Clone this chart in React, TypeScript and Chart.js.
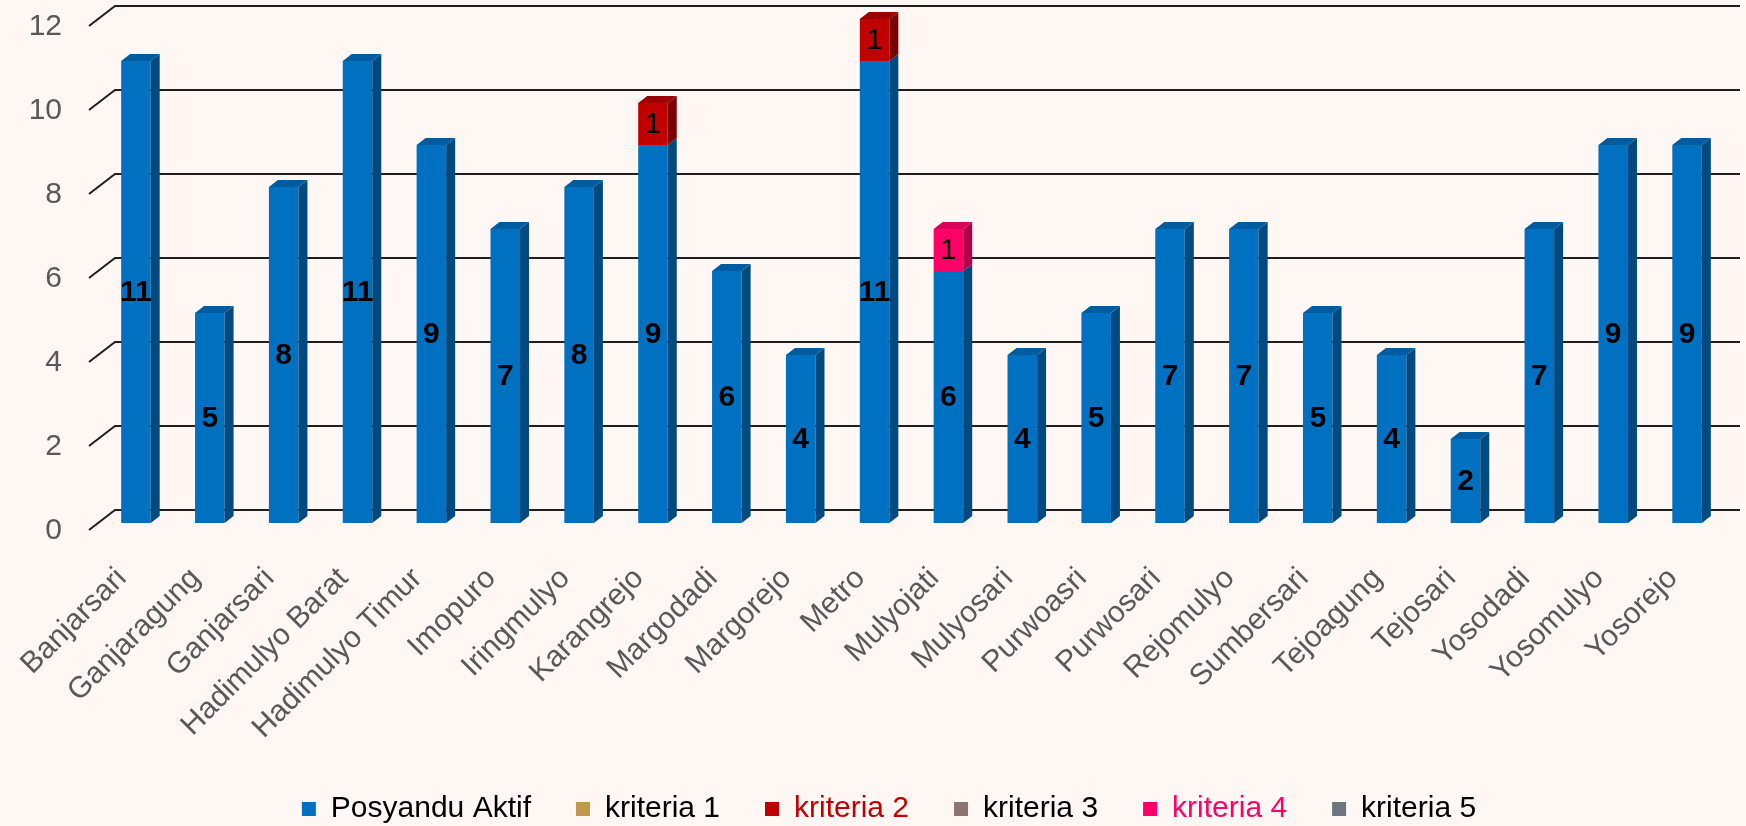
import React, { useEffect, useRef } from "react";
import { Chart, registerables } from "chart.js";

Chart.register(...registerables);

const categories = [
  "Banjarsari", "Ganjaragung", "Ganjarsari", "Hadimulyo Barat", "Hadimulyo Timur",
  "Imopuro", "Iringmulyo", "Karangrejo", "Margodadi", "Margorejo", "Metro",
  "Mulyojati", "Mulyosari", "Purwoasri", "Purwosari", "Rejomulyo", "Sumbersari",
  "Tejoagung", "Tejosari", "Yosodadi", "Yosomulyo", "Yosorejo",
];
const posyanduAktif = [11, 5, 8, 11, 9, 7, 8, 9, 6, 4, 11, 6, 4, 5, 7, 7, 5, 4, 2, 7, 9, 9];
const kriteria1 = [0, 0, 0, 0, 0, 0, 0, 0, 0, 0, 0, 0, 0, 0, 0, 0, 0, 0, 0, 0, 0, 0];
const kriteria2 = [0, 0, 0, 0, 0, 0, 0, 1, 0, 0, 1, 0, 0, 0, 0, 0, 0, 0, 0, 0, 0, 0];
const kriteria3 = [0, 0, 0, 0, 0, 0, 0, 0, 0, 0, 0, 0, 0, 0, 0, 0, 0, 0, 0, 0, 0, 0];
const kriteria4 = [0, 0, 0, 0, 0, 0, 0, 0, 0, 0, 0, 1, 0, 0, 0, 0, 0, 0, 0, 0, 0, 0];
const kriteria5 = [0, 0, 0, 0, 0, 0, 0, 0, 0, 0, 0, 0, 0, 0, 0, 0, 0, 0, 0, 0, 0, 0];
const yTicks = [0, 2, 4, 6, 8, 10, 12];

const seriesNames = ["Posyandu Aktif", "kriteria 1", "kriteria 2", "kriteria 3", "kriteria 4", "kriteria 5"];
const seriesData = [posyanduAktif, kriteria1, kriteria2, kriteria3, kriteria4, kriteria5];
const frontColors = ["#0070C0", "#C0984F", "#C00000", "#8C7470", "#FF0066", "#6E767E"];
const sideColors = ["#004A80", "#806533", "#7A0000", "#5E4D4A", "#B0004A", "#4A4F55"];
const topColors = ["#005C9E", "#A07E40", "#9A0000", "#756260", "#D80058", "#5C6369"];
const legendTextColors = ["#000000", "#000000", "#C00000", "#000000", "#FF0066", "#000000"];

const FONT = "'Liberation Sans', Arial, sans-serif";
const DX = 9;
const DY = 7;

const threeDPlugin = {
  id: "threeD",
  afterLayout(chart: any) {
    if (chart.legend) {
      chart.legend.left += 27;
      chart.legend.right += 27;
    }
  },
  beforeDatasetsDraw(chart: any) {
    const { ctx, chartArea, scales } = chart;
    const y = scales.y;
    ctx.save();
    ctx.strokeStyle = "#1f1f1f";
    ctx.lineWidth = 2;
    for (const t of yTicks) {
      const py = y.getPixelForValue(t);
      ctx.beginPath();
      ctx.moveTo(chartArea.left - 10, py + 7);
      ctx.lineTo(chartArea.left + 16, py - 13);
      ctx.lineTo(chartArea.right + 16, py - 13);
      ctx.stroke();
    }
    ctx.restore();
  },
  afterDatasetsDraw(chart: any) {
    const { ctx } = chart;
    const n = categories.length;
    ctx.save();
    for (let i = 0; i < n; i++) {
      let topDs = -1;
      for (let d = 0; d < seriesData.length; d++) if (seriesData[d][i] > 0) topDs = d;
      for (let d = 0; d < seriesData.length; d++) {
        if (seriesData[d][i] <= 0) continue;
        const el: any = chart.getDatasetMeta(d).data[i];
        const x0 = el.x - el.width / 2;
        const x1 = el.x + el.width / 2;
        const top = Math.min(el.y, el.base);
        const bottom = Math.max(el.y, el.base);
        ctx.fillStyle = sideColors[d];
        ctx.beginPath();
        ctx.moveTo(x1, bottom);
        ctx.lineTo(x1, top);
        ctx.lineTo(x1 + DX, top - DY);
        ctx.lineTo(x1 + DX, bottom - DY);
        ctx.closePath();
        ctx.fill();
        if (d === topDs) {
          ctx.fillStyle = topColors[d];
          ctx.beginPath();
          ctx.moveTo(x0, top);
          ctx.lineTo(x0 + DX, top - DY);
          ctx.lineTo(x1 + DX, top - DY);
          ctx.lineTo(x1, top);
          ctx.closePath();
          ctx.fill();
        }
      }
    }
    ctx.textAlign = "center";
    ctx.textBaseline = "middle";
    ctx.fillStyle = "#000000";
    for (let d = 0; d < seriesData.length; d++) {
      const meta = chart.getDatasetMeta(d);
      for (let i = 0; i < n; i++) {
        const v = seriesData[d][i];
        if (v <= 0) continue;
        const el: any = meta.data[i];
        ctx.font = (d === 0 ? "bold " : "") + "30px " + FONT;
        ctx.fillText(String(v), el.x, (el.y + el.base) / 2 + 1);
      }
    }
    ctx.restore();
  },
};

export default function App() {
  const ref = useRef<HTMLCanvasElement>(null);
  useEffect(() => {
    if (!ref.current) return;
    const chart = new Chart(ref.current, {
      type: "bar",
      data: {
        labels: categories,
        datasets: seriesNames.map((name, d) => ({
          label: name,
          data: seriesData[d],
          backgroundColor: frontColors[d],
          borderWidth: 0,
          categoryPercentage: 0.4,
          barPercentage: 1,
        })),
      },
      options: {
        animation: false,
        responsive: true,
        maintainAspectRatio: false,
        layout: { padding: { top: 19, right: 22, left: 0, bottom: 0 } },
        scales: {
          x: {
            stacked: true,
            grid: { display: false },
            border: { display: false },
            ticks: {
              autoSkip: false,
              maxRotation: 45,
              minRotation: 45,
              padding: 30,
              labelOffset: -14,
              color: "#595959",
              font: { family: FONT, size: 30 },
            },
            afterFit(scale: any) {
              scale.height = 226;
              scale.paddingLeft = 0;
              scale.paddingRight = 0;
            },
          },
          y: {
            stacked: true,
            min: 0,
            max: 12,
            grid: { display: false, drawTicks: false },
            border: { display: false },
            ticks: {
              stepSize: 2,
              padding: 37,
              labelOffset: 8,
              color: "#595959",
              font: { family: FONT, size: 30 },
            },
            afterFit(scale: any) {
              scale.width = 99;
              scale.paddingTop = 0;
              scale.paddingBottom = 0;
            },
          },
        },
        plugins: {
          tooltip: { enabled: false },
          legend: {
            position: "bottom",
            maxHeight: 77,
            labels: {
              boxWidth: 14,
              boxHeight: 14,
              padding: 45,
              font: { family: FONT, size: 30 },
              generateLabels(ch: any) {
                return ch.data.datasets.map((ds: any, i: number) => ({
                  text: ds.label,
                  fillStyle: frontColors[i],
                  strokeStyle: frontColors[i],
                  lineWidth: 0,
                  fontColor: legendTextColors[i],
                  hidden: false,
                  datasetIndex: i,
                }));
              },
            },
          },
        },
      },
      plugins: [threeDPlugin],
    } as any);
    return () => chart.destroy();
  }, []);
  return (
    <div style={{ position: "fixed", left: 0, top: 0, width: 1746, height: 826, background: "#FEF7F4" }}>
      <canvas ref={ref} />
    </div>
  );
}
